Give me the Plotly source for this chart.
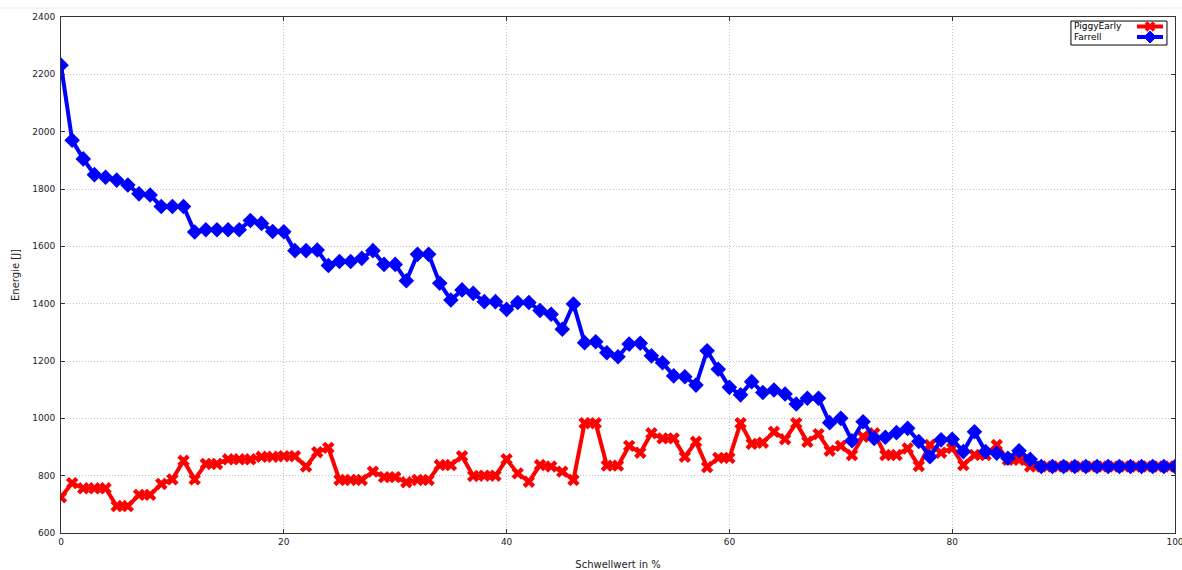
import plotly.graph_objects as go

# Schwellwert in % (0..100, step 1)
schwellwert = list(range(0, 101))

piggy_early = [
    725, 774, 756, 756, 756, 694, 694, 733, 733, 771,
    787, 852, 787, 841, 841, 857, 857, 857, 866, 866,
    868, 868, 832, 882, 897, 785, 785, 785, 814, 795,
    795, 777, 785, 785, 837, 837, 868, 799, 800, 800,
    857, 808, 779, 837, 832, 814, 785, 983, 983, 835,
    835, 904, 880, 948, 930, 930, 866, 918, 830, 862,
    862, 983, 911, 915, 953, 927, 983, 918, 945, 887,
    904, 872, 936, 948, 872, 872, 895, 834, 907, 880,
    896, 837, 872, 872, 907, 855, 855, 832, 832, 832,
    832, 832, 832, 832, 832, 832, 832, 832, 832, 832,
    832,
]

farrell = [
    2232, 1970, 1905, 1850, 1841, 1831, 1814, 1783, 1779, 1739,
    1739, 1739, 1650, 1658, 1658, 1658, 1658, 1690, 1680, 1652,
    1651, 1585, 1585, 1587, 1533, 1547, 1547, 1558, 1585, 1537,
    1537, 1480, 1572, 1572, 1471, 1413, 1448, 1436, 1407, 1407,
    1380, 1404, 1404, 1376, 1363, 1311, 1399, 1264, 1267, 1229,
    1215, 1259, 1262, 1218, 1194, 1148, 1145, 1116, 1236, 1171,
    1108, 1082, 1128, 1090, 1099, 1085, 1050, 1070, 1070, 985,
    1000, 922, 988, 930, 934, 950, 965, 919, 866, 925,
    927, 884, 953, 884, 878, 861, 887, 857, 832, 832,
    832, 832, 832, 832, 832, 832, 832, 832, 832, 832,
    832,
]

series_names = ["PiggyEarly", "Farrell"]
series_colors = ["#ff0000", "#0000ff"]

x_ticks = [0, 20, 40, 60, 80, 100]
y_ticks = [600, 800, 1000, 1200, 1400, 1600, 1800, 2000, 2200, 2400]

FONT = "DejaVu Sans"
TXT = "#222222"

fig = go.Figure()
fig.add_trace(go.Scatter(
    x=schwellwert, y=piggy_early, name=series_names[0], mode="lines+markers",
    line=dict(color=series_colors[0], width=4),
    marker=dict(symbol="x", size=11, color=series_colors[0]),
))
fig.add_trace(go.Scatter(
    x=schwellwert, y=farrell, name=series_names[1], mode="lines+markers",
    line=dict(color=series_colors[1], width=4),
    marker=dict(symbol="diamond", size=12, color=series_colors[1]),
))

axis_common = dict(
    showgrid=True, gridcolor="#c2c2c2", griddash="1px,2px", gridwidth=1,
    showline=True, linecolor="#333333", linewidth=1, mirror="ticks",
    ticks="inside", ticklen=4, tickcolor="#333333",
    zeroline=False, automargin=False, ticklabeloverflow="allow",
    tickfont=dict(family=FONT, size=9, color=TXT),
)

fig.update_xaxes(
    range=[0, 100], tickvals=x_ticks,
    title=dict(text="Schwellwert in %", font=dict(family=FONT, size=10, color=TXT), standoff=16),
    **axis_common,
)
fig.update_yaxes(
    range=[600, 2400], tickvals=y_ticks, ticklabelstandoff=3,
    title=dict(text="Energie [J]", font=dict(family=FONT, size=10, color=TXT), standoff=10),
    **axis_common,
)

# --- gnuplot-style key (text left, sample right), drawn in paper coordinates ---
key_x0, key_x1 = 0.9066, 0.9928
key_y0, key_y1 = 0.9457, 0.9922
row_y = [0.9816, 0.9612]
text_x = 0.9075
samp_x0, samp_x1, samp_xm = 0.9659, 0.9892, 0.9776

shapes = [
    # faint page line at top
    dict(type="line", xref="paper", yref="paper", x0=-0.06, x1=1.01, y0=1.0174, y1=1.0174,
         line=dict(color="#e8e8e8", width=1), layer="below"),
    dict(type="rect", xref="paper", yref="paper", x0=key_x0, x1=key_x1, y0=key_y0, y1=key_y1,
         line=dict(color="#000000", width=1), fillcolor="white"),
]
annotations = []
for i, (nm, col) in enumerate(zip(series_names, series_colors)):
    annotations.append(dict(
        xref="paper", yref="paper", x=text_x, y=row_y[i], xanchor="left", yanchor="middle",
        text=nm, showarrow=False, font=dict(family=FONT, size=9, color="#000000"),
    ))
    shapes.append(dict(type="line", xref="paper", yref="paper", x0=samp_x0, x1=samp_x1,
                       y0=row_y[i], y1=row_y[i], line=dict(color=col, width=4)))
    if i == 0:
        for a, b in [(-4, 4), (4, -4)]:
            shapes.append(dict(type="line", xref="paper", yref="paper",
                               xsizemode="pixel", ysizemode="pixel",
                               xanchor=samp_xm, yanchor=row_y[i],
                               x0=-4, x1=4, y0=a, y1=b,
                               line=dict(color=col, width=3.5)))
    else:
        shapes.append(dict(type="path", xref="paper", yref="paper",
                           xsizemode="pixel", ysizemode="pixel",
                           xanchor=samp_xm, yanchor=row_y[i],
                           path="M 0 6 L 6 0 L 0 -6 L -6 0 Z",
                           fillcolor=col, line=dict(color=col, width=1)))

fig.update_layout(
    width=1182, height=570,
    margin=dict(l=61, r=7, t=17, b=37),
    paper_bgcolor="white", plot_bgcolor="white",
    font=dict(family=FONT, size=9, color=TXT),
    showlegend=False,
    shapes=shapes,
    annotations=annotations,
)

# remove the browser's default page margin so the figure fills the window exactly
fig.write_html(
    "out.html",
    config={"displayModeBar": False},
    post_script="document.body.style.margin='0';document.body.style.overflow='hidden';",
)
